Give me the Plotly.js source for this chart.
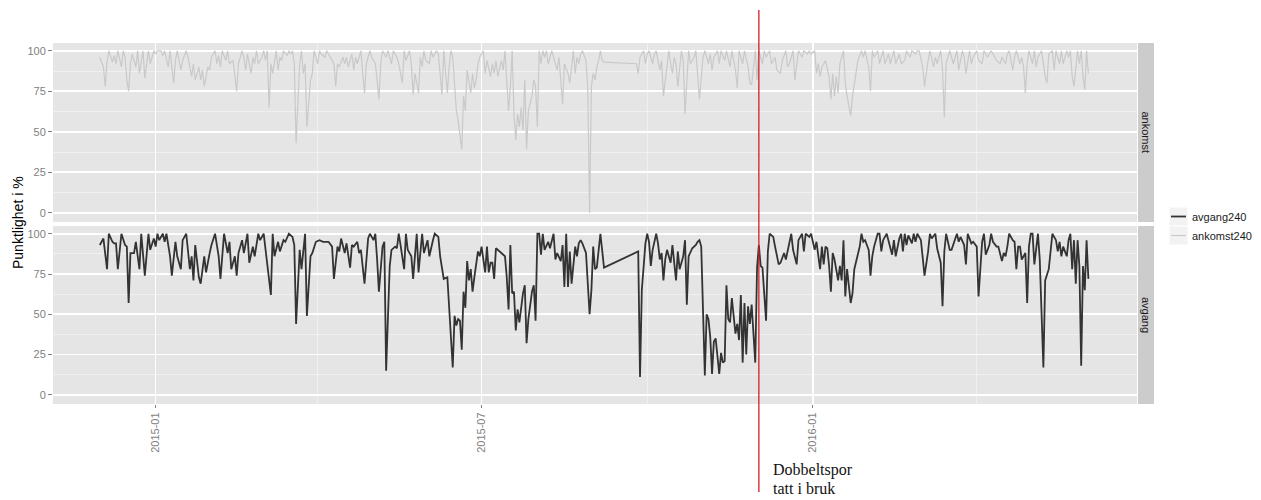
<!DOCTYPE html>
<html>
<head>
<meta charset="utf-8">
<script src="https://cdn.plot.ly/plotly-3.0.1.min.js"></script>
<style>
  html, body { margin: 0; padding: 0; background: #ffffff; }
  #chart { width: 1261px; height: 500px; }
</style>
</head>
<body>
<div id="chart"></div>
<script>
// Daily punctuality (%) for train 240, counted in days from 2014-12-01
const startDate = Date.UTC(2014, 11, 1);

const avgangDag = [
  0,2,4,5,7,8,9,10,12,14,15,16,17,19,20,22,23,25,27,28,30,31,32,33,35,36,37,39,40,42,43,45,46,48,50,51,52,53,55,56,
  58,59,61,62,64,66,67,69,71,72,73,75,76,77,79,80,82,83,85,86,88,89,91,93,95,96,97,99,100,102,103,105,107,108,109,111,112,114,115,117,
  118,120,122,124,127,129,130,132,133,134,136,137,139,140,141,143,144,145,147,149,150,152,153,154,155,157,158,159,161,162,164,165,166,167,169,170,171,173,174,176,
  177,179,180,182,183,185,186,188,189,191,
  193,196,197,198,199,200,201,202,203,204,205,206,207,208,209,210,211,212,214,215,216,217,218,219,220,222,223,225,226,227,
  228,229,230,231,232,233,234,235,236,237,238,240,241,242,243,244,245,246,247,249,250,252,253,254,256,257,258,259,260,261,
  262,264,265,266,267,268,270,271,272,273,274,275,276,278,279,280,299,300,301,303,304,305,306,307,309,310,311,312,313,314,
  315,317,318,319,320,321,322,324,325,326,327,329,331,332,333,334,335,336,337,338,339,340,341,342,344,345,346,347,348,349,
  350,351,353,354,355,356,357,358,359,360,361,362,363,364,365,366,367,368,370,371,372,374,375,377,378,380,381,
  384,385,387,388,390,391,392,394,395,397,398,400,401,402,403,404,405,406,407,408,410,411,412,413,414,415,417,418,419,422,
  423,424,425,427,428,429,430,432,433,434,435,437,438,439,440,441,442,444,445,446,447,448,449,451,452,453,454,456,457,458,
  460,461,462,464,465,467,468,469,470,472,473,475,476,477,478,480,481,482,484,485,487,488,490,491,492,494,495,496,498,499,
  501,502,503,504,505,507,508,509,510,511,512,514,515,516,517,518,519,521,522,524,525,527,528,529,531,532,533,534,535,537,
  538,539,540,541,542,543,544,545,546,547,548,549
];
const avgangPst = [
  93,97,78,100,95,94,94,78,100,93,92,57,88,88,95,78,100,74,100,90,97,92,100,96,100,95,100,86,74,95,86,78,96,100,78,86,71,93,73,69,
  86,76,88,93,100,86,72,100,88,95,78,86,74,88,96,88,100,82,92,86,100,96,100,82,62,100,86,95,89,96,95,100,98,93,44,90,78,100,49,86,
  88,95,96,95,95,92,72,92,89,97,88,94,79,93,92,95,88,90,69,97,100,96,100,84,64,92,95,15,80,90,92,91,100,93,78,100,90,86,72,100,
  76,100,88,96,86,96,100,98,86,72,
  73,17,49,43,47,46,28,64,54,83,71,78,64,73,80,89,86,92,76,92,76,82,82,72,91,89,88,86,73,53,
  93,63,64,40,53,45,54,63,68,32,47,64,68,46,100,100,87,100,90,95,91,100,84,88,83,93,67,100,67,89,
  69,92,86,94,96,94,88,71,50,65,92,78,79,100,90,79,89,11,65,94,100,95,80,90,100,94,84,88,71,84,
  90,82,93,80,71,89,78,86,96,56,86,91,93,95,96,92,50,12,50,47,36,13,33,35,13,26,20,21,68,47,
  45,60,38,44,34,62,20,57,25,55,44,56,38,20,79,93,80,79,46,89,100,98,92,81,82,88,84,
  100,90,81,96,100,89,100,98,100,90,95,78,92,81,92,91,80,64,88,84,71,80,71,96,61,78,57,63,78,92,
  100,95,96,90,74,86,92,100,100,89,96,100,95,92,87,96,86,97,100,89,100,93,99,94,100,95,100,96,86,74,
  89,100,97,100,91,82,55,89,100,90,90,96,100,95,98,93,81,100,94,95,92,61,95,100,87,93,100,95,92,92,
  83,88,86,92,100,96,95,78,92,92,84,88,57,92,100,100,81,100,84,17,71,78,88,100,96,89,95,86,92,86,
  96,100,78,96,69,96,80,18,80,65,96,72
];

const ankomstDag = [
  0,2,3,4,5,7,8,9,10,12,13,14,15,16,17,18,20,21,22,24,25,27,28,30,31,32,34,35,36,38,39,41,42,43,45,46,48,49,51,52,
  53,55,56,57,58,60,61,62,64,65,66,67,68,70,71,72,74,75,76,77,79,80,81,82,84,85,86,87,88,90,91,92,93,94,95,96,98,99,100,101,
  102,104,105,106,107,108,109,111,112,113,114,115,117,118,119,121,122,123,125,126,128,
  130,131,132,133,135,136,137,138,140,141,142,143,145,146,147,148,150,151,153,154,155,156,157,159,160,162,163,165,166,168,
  169,170,172,173,174,175,177,178,179,180,181,183,184,185,187,188,189,190,191,193,194,195,196,197,198,199,201,202,203,204,
  205,206,207,208,209,210,211,213,214,215,217,218,219,220,221,222,223,224,225,227,228,229,230,231,232,233,234,235,236,237,
  238,240,241,242,243,244,245,246,247,248,249,250,251,253,254,255,256,257,258,260,261,262,263,264,265,266,267,268,270,271,
  272,273,274,275,276,277,278,279,280,298,299,300,302,303,304,305,307,308,309,311,312,313,315,316,317,318,319,320,321,323,
  324,325,327,328,330,331,333,
  335,336,338,339,340,341,343,344,345,347,348,350,351,353,354,355,357,358,360,361,362,364,365,366,368,369,370,372,373,375,
  376,378,379,381,382,383,385,386,387,388,390,391,393,394,395,397,398,399,400,401,403,404,405,406,407,408,409,410,411,413,
  414,415,416,417,418,420,421,423,424,425,427,428,429,430,432,433,435,436,438,439,441,442,444,445,447,448,450,451,453,454,
  455,457,458,460,461,463,464,465,467,468,469,470,472,473,474,476,477,479,480,481,483,484,485,487,488,490,491,493,494,495,
  497,498,500,501,503,504,505,507,508,509,511,512,513,514,515,516,518,519,520,521,523,524,525,526,527,529,530,531,533,534,
  535,537,538,539,540,541,543,544,545,546,547,548,549
];
const ankomstPst = [
  96,90,78,93,100,93,97,92,100,90,100,96,82,75,92,98,90,100,86,100,83,100,92,100,98,100,100,97,100,90,100,80,94,100,88,94,100,96,84,92,
  82,90,82,88,78,90,88,96,100,92,97,90,100,94,100,92,94,84,75,92,100,96,88,98,86,96,92,100,92,96,100,94,100,65,92,86,100,88,96,94,
  100,97,100,98,100,92,43,92,100,86,92,53,82,86,100,92,100,98,96,100,96,
  92,78,92,90,96,92,96,90,98,88,96,92,100,86,74,92,100,96,92,82,70,92,100,96,100,92,100,96,92,80,
  100,94,100,92,73,86,74,96,90,100,94,92,100,96,100,98,86,73,100,74,90,100,96,82,63,57,39,72,63,88,
  82,74,86,77,82,92,96,100,86,94,84,92,86,94,84,90,94,88,100,63,78,100,61,45,61,53,65,51,82,39,
  63,72,82,78,53,100,92,100,96,100,92,96,100,92,88,96,84,67,92,86,80,92,100,86,96,92,98,100,94,76,
  0,78,86,82,90,94,100,94,93,92,86,96,100,92,98,100,92,98,100,88,94,72,90,100,92,86,96,92,78,100,
  94,61,100,92,96,100,70,
  96,100,92,98,88,96,100,92,100,94,100,90,100,88,77,100,92,100,90,80,79,100,82,100,92,100,96,100,92,96,
  88,86,94,100,90,92,100,82,92,100,96,100,98,100,98,100,86,92,84,90,94,88,84,70,86,72,84,74,92,100,
  80,72,67,60,72,86,94,100,96,100,90,75,100,96,100,92,100,92,98,92,100,92,98,92,94,100,96,100,98,100,
  100,90,78,94,100,90,96,92,100,88,59,92,100,96,92,100,88,100,96,86,100,92,96,100,94,92,100,96,98,100,
  96,94,92,96,92,98,100,88,96,100,92,96,90,74,92,100,92,100,90,96,100,92,84,80,98,100,88,100,92,100,
  92,100,96,100,84,78,100,92,100,84,76,100,86
];

const facetLabels = ['ankomst', 'avgang'];
const seriesNames = ['avgang240', 'ankomst240'];
const seriesColors = ['#333333', '#c9c9c9'];
const xTickDates = ['2015-01-01', '2015-07-01', '2016-01-01'];
const xTickLabels = ['2015-01', '2015-07', '2016-01'];
const yTicks = [0, 25, 50, 75, 100];
const eventDate = '2015-12-02';
const eventLines = ['Dobbeltspor', 'tatt i bruk'];
const yTitle = 'Punktlighet i %';

function dayToDate(d) {
  return new Date(startDate + d * 86400000).toISOString().slice(0, 10);
}

// page geometry
const W = 1261, H = 500;
const M = { l: 53, r: 124, t: 43, b: 96 };
const plotW = W - M.l - M.r, plotH = H - M.t - M.b;
const px = x => (x - M.l) / plotW;          // pixel column -> paper x
const py = y => (H - M.b - y) / plotH;      // pixel row -> paper y

const FONT = 'Liberation Sans, Arial, Helvetica, sans-serif';
const GRID = '#ffffff', MINOR = '#f2f2f2', PANEL = '#e5e5e5', STRIP = '#cccccc';
const TICKCOL = '#7f7f7f';

const traces = [
  {
    x: ankomstDag.map(dayToDate), y: ankomstPst, name: seriesNames[1],
    type: 'scatter', mode: 'lines', xaxis: 'x', yaxis: 'y',
    line: { color: seriesColors[1], width: 1.2 }, showlegend: false, hoverinfo: 'skip'
  },
  {
    x: avgangDag.map(dayToDate), y: avgangPst, name: seriesNames[0],
    type: 'scatter', mode: 'lines', xaxis: 'x2', yaxis: 'y2',
    line: { color: seriesColors[0], width: 1.8 }, showlegend: false, hoverinfo: 'skip'
  }
];

const xRange = ['2014-11-05', '2016-06-29'];
const xCommon = {
  type: 'date', range: xRange, tickmode: 'array', tickvals: xTickDates, ticktext: xTickLabels,
  showgrid: true, gridcolor: GRID, gridwidth: 1.6, zeroline: false, showline: false,
  minor: { tick0: '2014-10-01', dtick: 'M6', showgrid: true, gridcolor: MINOR, gridwidth: 0.8, ticks: '' }
};
const yCommon = {
  range: [-5.7, 104.8], tickmode: 'array', tickvals: yTicks, ticktext: yTicks.map(String),
  showgrid: true, gridcolor: GRID, gridwidth: 1.6, zeroline: false, showline: false,
  ticks: 'outside', ticklen: 4, tickwidth: 1, tickcolor: TICKCOL,
  tickfont: { family: FONT, size: 11, color: TICKCOL },
  minor: { tick0: 12.5, dtick: 25, showgrid: true, gridcolor: MINOR, gridwidth: 0.8, ticks: '' }
};

const topDomain = [py(222), 1];
const botDomain = [0, py(226)];

const shapes = [];
const annotations = [];

// facet strips on the right
[['y domain', facetLabels[0]], ['y2 domain', facetLabels[1]]].forEach(([ref, label]) => {
  shapes.push({ type: 'rect', xref: 'paper', yref: ref, x0: px(1138), x1: px(1154), y0: 0, y1: 1,
    fillcolor: STRIP, line: { width: 0 }, layer: 'below' });
  annotations.push({ xref: 'paper', yref: ref, x: px(1146), y: 0.5, text: label, showarrow: false,
    textangle: 90, font: { family: FONT, size: 11, color: '#1a1a1a' }, xanchor: 'center', yanchor: 'middle' });
});

// event marker
shapes.push({ type: 'line', xref: 'x', yref: 'paper', x0: eventDate, x1: eventDate,
  y0: py(492), y1: py(10), line: { color: '#d41e24', width: 1.3 } });
eventLines.forEach((t, i) => {
  annotations.push({ xref: 'paper', yref: 'paper', x: px(771), y: py(470 + i * 18), text: t,
    showarrow: false, xanchor: 'left', yanchor: 'middle',
    font: { family: 'Liberation Serif, Times New Roman, serif', size: 16, color: '#111111' } });
});

// shared y-axis title
annotations.push({ xref: 'paper', yref: 'paper', x: px(18), y: py(223), text: yTitle, showarrow: false,
  textangle: -90, xanchor: 'center', yanchor: 'middle', font: { family: FONT, size: 14, color: '#000000' } });

// legend
const legendRows = [
  { name: seriesNames[0], color: seriesColors[0], width: 1.8, top: 207 },
  { name: seriesNames[1], color: seriesColors[1], width: 1.2, top: 226 }
];
legendRows.forEach(r => {
  shapes.push({ type: 'rect', xref: 'paper', yref: 'paper', x0: px(1169), x1: px(1188),
    y0: py(r.top + 19), y1: py(r.top), fillcolor: '#f2f2f2', line: { color: '#ffffff', width: 1 } });
  shapes.push({ type: 'line', xref: 'paper', yref: 'paper', x0: px(1171), x1: px(1186),
    y0: py(r.top + 9.5), y1: py(r.top + 9.5), line: { color: r.color, width: r.width } });
  annotations.push({ xref: 'paper', yref: 'paper', x: px(1190), y: py(r.top + 9.5), text: r.name,
    showarrow: false, xanchor: 'left', yanchor: 'middle', font: { family: FONT, size: 11, color: '#1a1a1a' } });
});

const layout = {
  width: W, height: H,
  margin: { l: M.l, r: M.r, t: M.t, b: M.b, pad: 0 },
  paper_bgcolor: '#ffffff', plot_bgcolor: PANEL,
  font: { family: FONT, size: 11, color: '#333333' },
  showlegend: false, hovermode: false,
  xaxis: Object.assign({}, xCommon, { anchor: 'y', showticklabels: false, ticks: '' }),
  xaxis2: Object.assign({}, xCommon, { anchor: 'y2', matches: 'x', showticklabels: true,
    ticks: 'outside', ticklen: 3, tickwidth: 1, tickcolor: TICKCOL, tickangle: -90,
    tickfont: { family: FONT, size: 11, color: TICKCOL } }),
  yaxis: Object.assign({}, yCommon, { domain: topDomain, anchor: 'x' }),
  yaxis2: Object.assign({}, yCommon, { domain: botDomain, anchor: 'x2' }),
  shapes: shapes,
  annotations: annotations
};

Plotly.newPlot('chart', traces, layout, { displayModeBar: false, staticPlot: true });
</script>
</body>
</html>
